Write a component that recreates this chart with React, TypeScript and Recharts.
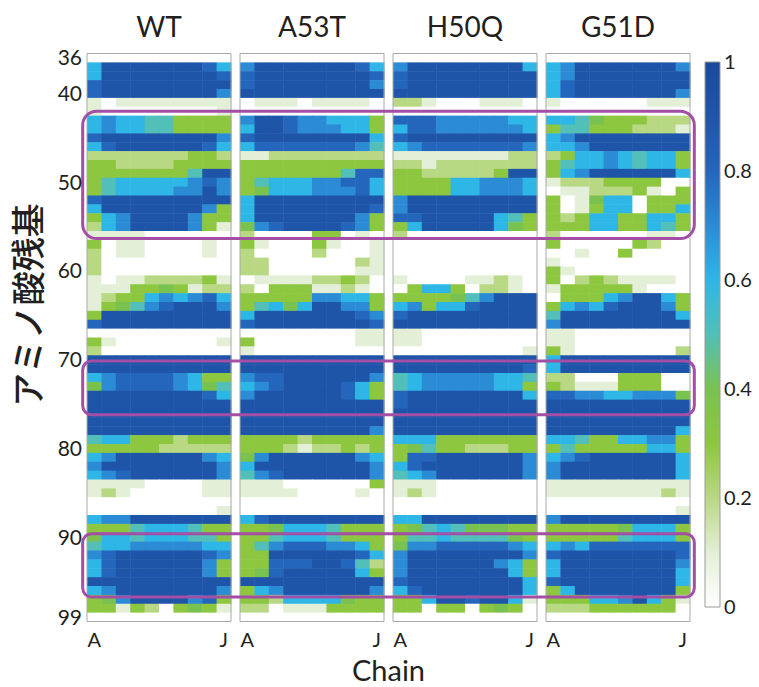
import React from 'react';
import { ScatterChart, Scatter, XAxis, YAxis, ReferenceArea, BarChart, Bar } from 'recharts';

const panels = ['WT', 'A53T', 'H50Q', 'G51D'];
const chainTicks = ['A', 'J'];
const residueTicks = [36, 40, 50, 60, 70, 80, 90, 99];
const colorbarTicks = [0, 0.2, 0.4, 0.6, 0.8, 1];
const firstResidue = 36;
const lastResidue = 99;

// residue ranges framed in purple, with corner radius
const highlightRanges = [
  [42, 56.35],
  [70.15, 76.2],
  [89.6, 96.75],
];
const highlightRadius = [14, 9, 9];

// one string per residue (36..99), one digit per chain A..J, value = digit / 10
const wtRows = [
  '0000000000', '6999999986', '6999999998', '8999999999', '8999999997',
  '1011111111', '1000000001', '6766553333', '6766553333', '8999999997',
  '6899999986', '2222222332', '3322223333', '3333333599', '3566666787',
  '3566667797', '8999999999', '6999999973', '3679999733', '2679999731',
  '1111000000', '3011000010', '2011000010', '2000000000', '2000000000',
  '1011222231', '1113343122', '1233676786', '1345789997', '3999999999',
  '8999999999', '0000000000', '3100000001', '2000000000', '9999999999',
  '9999999999', '6788887633', '4788887645', '9999999986', '9999999999',
  '9999999999', '9999999999', '9999999999', '5663332333', '3333322222',
  '6799999976', '7999999997', '6789999997', '1111000011', '1210000011',
  '0000000000', '0000000001', '6779999999', '3335666533', '4665666553',
  '5667777766', '7899999987', '6899999973', '6899999973', '9999999999',
  '6799999997', '3479999783', '3313203431', '0000000000',
];

const a53tRows = [
  '0000000000', '7999999986', '8999999998', '8999999997', '9999999999',
  '0111011110', '0000000000', '7998776663', '6998777663', '8999999996',
  '6888888875', '1122222222', '3333333333', '3333333588', '3566677886',
  '3466677786', '6999999999', '6999999998', '6999999973', '4789999873',
  '2000033010', '3100031001', '2000020001', '2200000021', '2200000011',
  '0111122320', '2033311210', '3333377663', '3564699773', '6999999987',
  '8999999998', '0000000011', '3000000011', '1000000000', '9999999999',
  '9999999999', '7889999997', '6789999863', '7999999863', '9999999999',
  '9999999999', '9999999999', '9999999997', '3333233333', '3332122323',
  '4799999976', '6999999997', '5789999997', '1110000003', '1111000010',
  '0000000000', '0000000000', '6899999999', '3346665333', '3356665333',
  '3578887763', '3399999986', '3388899852', '3489999963', '9999999999',
  '3679999997', '3326666433', '2201113333', '0000000000',
];

const h50qRows = [
  '0000000000', '7999999996', '8999999999', '8999999999', '9999999999',
  '2210001110', '0000000000', '8887777766', '6887777776', '8999999999',
  '6788888887', '1111111122', '2212222222', '3322222399', '3333667776',
  '3333667776', '7999999999', '7999999999', '8899999653', '3699999643',
  '2000000000', '0000000000', '0000000000', '0000000000', '0000000000',
  '1000011210', '0366302210', '3333457999', '6736689999', '8999999999',
  '9999999999', '1100000000', '1100000000', '0000000001', '9999999999',
  '9999999998', '5677777665', '5677777663', '8999999996', '8999999999',
  '9999999999', '9999999999', '9999999999', '6663333333', '3453322233',
  '3889999997', '6899999997', '5679999997', '1110000000', '1210000000',
  '0000000000', '0000000000', '6699999999', '3456544433', '3556555543',
  '4778888876', '7999999997', '7999999763', '7999999963', '8999999996',
  '6899999996', '3369989961', '3303303430', '0000000000',
];

const g51dRows = [
  '0000000000', '6799999997', '6799999999', '6899999999', '6899999997',
  '1000000111', '0000000000', '6654333222', '3553332221', '6799999999',
  '6679999999', '2366765663', '3566765663', '3679999996', '1222333300',
  '0112223103', '3014660333', '3013660336', '3236633663', '3336633653',
  '2000000110', '3000003200', '0010030000', '1000000000', '3100000000',
  '3023211110', '1333331000', '0333679963', '3676899973', '5999999996',
  '7999999999', '1100000000', '1100000000', '3100000002', '6999999999',
  '6999999999', '2200033300', '3211133300', '8877667774', '9999999999',
  '9999999999', '9999999999', '9999999996', '6653366773', '3533333663',
  '6789999996', '7999999996', '7999999996', '1111111111', '1111111121',
  '0000000000', '0000000001', '7999999999', '3333346663', '3333356663',
  '6768888888', '8999999998', '6999999997', '6999999996', '8999999996',
  '3699999993', '3336679631', '2223333330', '0000000000',
];

const colorStops: [number, string][] = [
  [0, '#ffffff'],
  [0.1, '#e3efd6'],
  [0.2, '#b8d883'],
  [0.3, '#8dc63f'],
  [0.4, '#79c250'],
  [0.5, '#52bfb8'],
  [0.6, '#2eb6e6'],
  [0.7, '#2b8bd4'],
  [0.8, '#2466bb'],
  [0.9, '#1f55a8'],
  [1, '#1b4a9a'],
];

const W = 759;
const H = 687;
const plotLeft = 87;
const plotRight = 690;
const plotTop = 53.5;
const plotBottom = 621.5;
const panelStep = 10.625;
const xMax = (panels.length - 1) * panelStep + 10;
const cellW = (plotRight - plotLeft) / xMax;
const cellH = (plotBottom - plotTop) / (lastResidue - firstResidue + 1);
const font = "Lato, 'Open Sans', sans-serif";
const textColor = '#231f20';

const hex = (c: string) => [1, 3, 5].map((i) => parseInt(c.slice(i, i + 2), 16));

function colorFor(v: number) {
  for (let i = 1; i < colorStops.length; i++) {
    const [v1, c1] = colorStops[i];
    const [v0, c0] = colorStops[i - 1];
    if (v <= v1 + 1e-9) {
      const t = (v - v0) / (v1 - v0);
      const a = hex(c0);
      const b = hex(c1);
      const rgb = a.map((x, k) => Math.round(x + (b[k] - x) * t));
      return `rgb(${rgb.join(',')})`;
    }
  }
  return colorStops[colorStops.length - 1][1];
}

const panelRows = [wtRows, a53tRows, h50qRows, g51dRows];
const cells = panelRows.flatMap((rows, p) =>
  rows.flatMap((row, i) =>
    row.split('').map((d, c) => ({
      x: p * panelStep + c + 0.5,
      y: firstResidue + i,
      v: Number(d) / 10,
    }))
  )
);

const bottomTicks = panels.flatMap((_, p) => [p * panelStep + 0.5, p * panelStep + 9.5]);
const topTicks = panels.map((_, p) => p * panelStep + 5);
const colorbarData = [{ name: 'scale', v: 1 }];

const CellShape = (props: any) => {
  const { cx, cy, payload } = props;
  if (cx == null || cy == null) return null;
  return (
    <rect
      x={cx - cellW / 2}
      y={cy - cellH / 2}
      width={cellW + 0.5}
      height={cellH + 0.5}
      fill={colorFor(payload.v)}
    />
  );
};

export default function App() {
  return (
    <div style={{ position: 'absolute', left: 0, top: 0, width: W, height: H, background: '#fff' }}>
      <ScatterChart
        width={W}
        height={H}
        margin={{ top: 0, right: W - plotRight, bottom: 0, left: 47 }}
      >
        <XAxis
          xAxisId="b"
          type="number"
          dataKey="x"
          domain={[0, xMax]}
          ticks={bottomTicks}
          interval={0}
          tickFormatter={(_v: number, i: number) => chainTicks[i % 2]}
          axisLine={false}
          tickLine={false}
          tickSize={3}
          tickMargin={8}
          height={H - plotBottom}
          tick={{ fontSize: 20, fill: textColor, fontFamily: font }}
          label={{ value: 'Chain', position: 'insideBottom', offset: 6, fontSize: 29, fill: textColor, fontFamily: font }}
        />
        <XAxis
          xAxisId="t"
          orientation="top"
          type="number"
          dataKey="x"
          domain={[0, xMax]}
          allowDataOverflow
          ticks={topTicks}
          interval={0}
          tickFormatter={(_v: number, i: number) => panels[i]}
          axisLine={false}
          tickLine={false}
          tickSize={3}
          tickMargin={14}
          height={plotTop}
          tick={{ fontSize: 28, fill: textColor, fontFamily: font }}
        />
        <YAxis
          yAxisId="l"
          type="number"
          dataKey="y"
          domain={[firstResidue - 0.5, lastResidue + 0.5]}
          reversed
          ticks={residueTicks}
          interval={0}
          axisLine={false}
          tickLine={false}
          tickSize={3}
          tickMargin={2}
          width={40}
          tick={{ fontSize: 21, fill: textColor, fontFamily: font }}
        />
        <Scatter
          data={cells}
          xAxisId="b"
          yAxisId="l"
          shape={CellShape}
          isAnimationActive={false}
        />
        {panels.map((name, p) => (
          <ReferenceArea
            key={name}
            xAxisId="b"
            yAxisId="l"
            x1={p * panelStep}
            x2={p * panelStep + 10}
            y1={firstResidue - 0.5}
            y2={lastResidue + 0.5}
            fill="none"
            fillOpacity={0}
            stroke="#a9a9a9"
            strokeWidth={1}
            ifOverflow="visible"
            zIndex={700}
          />
        ))}
        {highlightRanges.map(([y1, y2], k) => (
          <ReferenceArea
            key={`hl${k}`}
            xAxisId="b"
            yAxisId="l"
            x1={-0.3}
            x2={xMax + 0.3}
            y1={y1}
            y2={y2}
            ifOverflow="visible"
            zIndex={800}
            shape={(s: any) => (
              <rect
                x={s.x}
                y={s.y}
                width={s.width}
                height={s.height}
                rx={highlightRadius[k]}
                ry={highlightRadius[k]}
                fill="none"
                stroke="#a24fa5"
                strokeWidth={3}
              />
            )}
          />
        ))}
      </ScatterChart>

      <div style={{ position: 'absolute', left: plotRight, top: 0 }}>
        <BarChart
          width={W - plotRight}
          height={H}
          data={colorbarData}
          margin={{ top: 62, right: 0, bottom: 80, left: 15 }}
          barCategoryGap={0}
        >
          <defs>
            <linearGradient id="cbGrad" x1="0" y1="1" x2="0" y2="0">
              {colorStops.map(([v, c]) => (
                <stop key={v} offset={`${v * 100}%`} stopColor={c} />
              ))}
            </linearGradient>
          </defs>
          <XAxis dataKey="name" hide />
          <YAxis
            orientation="right"
            type="number"
            domain={[0, 1]}
            ticks={colorbarTicks}
            interval={0}
            axisLine={false}
            tickLine={false}
            tickSize={0}
            tickMargin={4}
            width={39}
            tick={{ fontSize: 20, fill: textColor, fontFamily: font, textAnchor: 'start' }}
          />
          <Bar dataKey="v" fill="url(#cbGrad)" stroke="#9a9a9a" strokeWidth={1} isAnimationActive={false} />
        </BarChart>
      </div>

      <div
        style={{
          position: 'absolute',
          left: 27,
          top: 305,
          transform: 'translate(-50%, -50%) rotate(-90deg)',
          whiteSpace: 'nowrap',
          fontFamily: "'Noto Sans CJK JP', sans-serif",
          fontSize: 34,
          fontWeight: 500,
          color: textColor,
          lineHeight: 1,
        }}
      >
        アミノ酸残基
      </div>
    </div>
  );
}
